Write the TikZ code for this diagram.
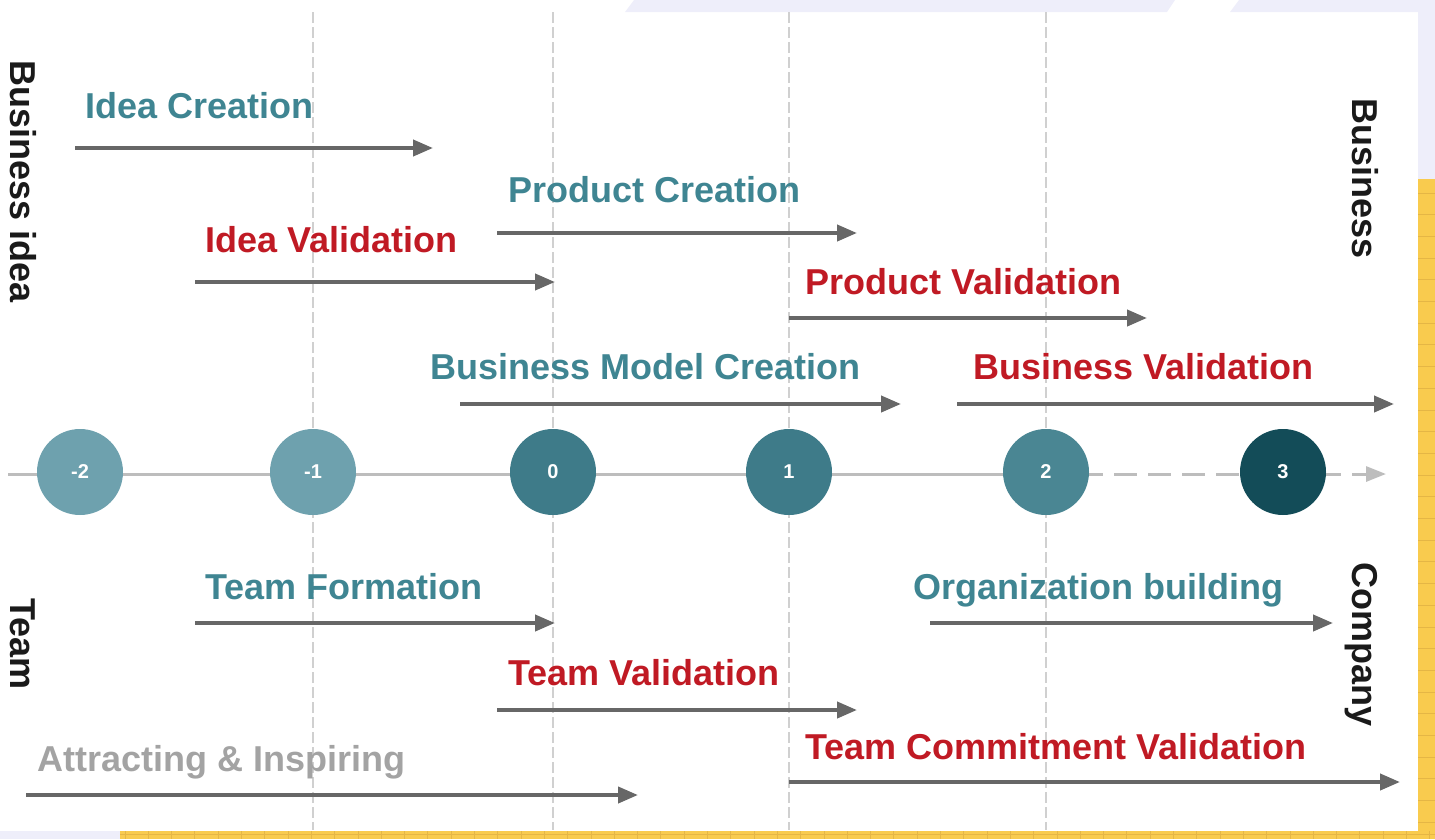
\documentclass[tikz,border=0pt]{standalone}
\usepackage{fontspec}
\setmainfont{Liberation Sans}
\usetikzlibrary{arrows.meta}
\pgfdeclarelayer{bg}
\pgfsetlayers{bg,main}
\definecolor{lav}{HTML}{EEEEFA}
\definecolor{ylw}{HTML}{F9CB4E}
\definecolor{ylwline}{HTML}{E5B645}
\definecolor{tealt}{HTML}{3F8592}
\definecolor{redt}{HTML}{C01A24}
\definecolor{grayt}{HTML}{A3A3A3}
\definecolor{arr}{HTML}{676767}
\definecolor{gridc}{HTML}{D0D0D0}
\definecolor{tlc}{HTML}{BDBDBD}
\definecolor{cA}{HTML}{6EA1AE}
\definecolor{cB}{HTML}{3E7B89}
\definecolor{cC}{HTML}{4A8693}
\definecolor{cD}{HTML}{134C58}
\definecolor{sidec}{HTML}{1A1A1A}
\tikzset{
  lbl/.style={anchor=base west, inner sep=0pt, font=\fontsize{36}{40}\selectfont\bfseries},
  sidelbl/.style={anchor=base west, inner sep=0pt, rotate=-90, text=sidec, font=\fontsize{36}{40}\selectfont\bfseries},
  phase/.style={draw=arr, line width=4pt, -{Triangle[length=20pt,width=16pt]}},
  circ/.style={circle, minimum size=86pt, inner sep=0pt, text=white, font=\fontsize{20}{22}\selectfont\bfseries},
  vgrid/.style={draw=gridc, line width=1.3pt, dash pattern=on 11pt off 4pt},
}
\begin{document}
\begin{tikzpicture}[x=1pt,y=-1pt]
\useasboundingbox (0,0) rectangle (1435,839);
% background decorations
\fill[lav] (625,12) -- (634,0) -- (1175,0) -- (1167,12) -- cycle;
\fill[lav] (1230,12) -- (1239,0) -- (1435,0) -- (1435,179) -- (1418,179) -- (1418,12) -- cycle;
\fill[lav] (0,831) rectangle (120,839);
\fill[ylw] (120,831) rectangle (1435,839);
\fill[ylw] (1418,179) rectangle (1435,839);
\foreach \i in {0,...,56} {\draw[ylwline, line width=1pt] ({125+23.3*\i},831) -- ({125+23.3*\i},839);}
\draw[ylwline, line width=1pt] (120,834) -- (1435,834);
\foreach \i in {0,...,30} {\draw[ylwline, line width=1pt] (1418,{193+21.7*\i}) -- (1435,{193+21.7*\i});}
% vertical dashed grid
\foreach \x/\n in {313/ga,553/gb,789/gc,1046/gd} {
  \coordinate (\n t) at (\x,12);
  \coordinate (\n b) at (\x,830);
  \draw[vgrid] (\n t) -- (\n b);
}
% circles
\node[circ, fill=cA] (cm2) at (80,472) {-2};
\node[circ, fill=cA] (cm1) at (313,472) {-1};
\node[circ, fill=cB] (c0) at (553,472) {0};
\node[circ, fill=cB] (c1) at (789,472) {1};
\node[circ, fill=cC] (c2) at (1046,472) {2};
\node[circ, fill=cD] (c3) at (1283,472) {3};
\coordinate (tlstart) at (8,474);
\coordinate (tlmid) at (1046,474);
\coordinate (tlend) at (1386,474);
\begin{pgfonlayer}{bg}
\draw[tlc, line width=3pt] (tlstart) -- (tlmid);
\draw[tlc, line width=3pt, dash pattern=on 23pt off 11pt, -{Triangle[length=20pt,width=15pt]}] (tlmid) -- (tlend);
\end{pgfonlayer}
% side labels
\node[sidelbl] (sbi) at (10,60) {Business idea};
\node[sidelbl] (steam) at (10,598) {Team};
\node[sidelbl] (sbus) at (1352,98) {Business};
\node[sidelbl] (scomp) at (1352,562) {Company};
% phase labels
\node[lbl, text=tealt] (t1) at (85,118) {Idea Creation};
\node[lbl, text=tealt] (t2) at (508,202) {Product Creation};
\node[lbl, text=redt] (t3) at (205,252) {Idea Validation};
\node[lbl, text=redt] (t4) at (805,294) {Product Validation};
\node[lbl, text=tealt] (t5) at (430,379) {Business Model Creation};
\node[lbl, text=redt] (t6) at (973,379) {Business Validation};
\node[lbl, text=tealt] (t7) at (205,599) {Team Formation};
\node[lbl, text=tealt] (t8) at (913,599) {Organization building};
\node[lbl, text=redt] (t9) at (508,685) {Team Validation};
\node[lbl, text=grayt] (t10) at (37,771) {Attracting \& Inspiring};
\node[lbl, text=redt] (t11) at (805,759) {Team Commitment Validation};
% phase arrows
\coordinate (a1s) at (75,148);   \coordinate (a1e) at (433,148);
\coordinate (a2s) at (497,233);  \coordinate (a2e) at (857,233);
\coordinate (a3s) at (195,282);  \coordinate (a3e) at (555,282);
\coordinate (a4s) at (789,318);  \coordinate (a4e) at (1147,318);
\coordinate (a5s) at (460,404);  \coordinate (a5e) at (901,404);
\coordinate (a6s) at (957,404);  \coordinate (a6e) at (1394,404);
\coordinate (a7s) at (195,623);  \coordinate (a7e) at (555,623);
\coordinate (a8s) at (930,623);  \coordinate (a8e) at (1333,623);
\coordinate (a9s) at (497,710);  \coordinate (a9e) at (857,710);
\coordinate (a10s) at (26,795);  \coordinate (a10e) at (638,795);
\coordinate (a11s) at (789,782); \coordinate (a11e) at (1400,782);
\foreach \k in {1,...,11} {\draw[phase] (a\k s) -- (a\k e);}
\end{tikzpicture}
\end{document}
